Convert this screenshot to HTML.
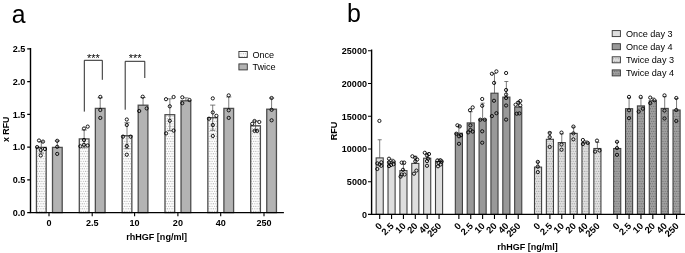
<!DOCTYPE html>
<html lang="en"><head><meta charset="utf-8"><title>Figure</title>
<style>
html,body{margin:0;padding:0;background:#fff;}
svg{display:block;font-family:"Liberation Sans",Arial,sans-serif;}
.b{font-weight:bold;fill:#000;}
.r{fill:#000;}
</style></head><body>
<svg width="685" height="253" viewBox="0 0 685 253">
<defs>
<pattern id="dotL" width="2.3" height="5" patternUnits="userSpaceOnUse">
<rect width="2.3" height="5" fill="#fdfdfd"/>
<circle cx="0.6" cy="1.25" r="0.52" fill="#969696"/><circle cx="1.75" cy="3.75" r="0.52" fill="#969696"/>
</pattern>
<pattern id="dotM" width="2.3" height="5" patternUnits="userSpaceOnUse">
<rect width="2.3" height="5" fill="#e0e0e0"/>
<circle cx="0.6" cy="1.25" r="0.52" fill="#8c8c8c"/><circle cx="1.75" cy="3.75" r="0.52" fill="#8c8c8c"/>
</pattern>
<pattern id="dotD" width="2.3" height="5" patternUnits="userSpaceOnUse">
<rect width="2.3" height="5" fill="#a0a0a0"/>
<circle cx="0.6" cy="1.25" r="0.52" fill="#5c5c5c"/><circle cx="1.75" cy="3.75" r="0.52" fill="#5c5c5c"/>
</pattern>
</defs>
<rect width="685" height="253" fill="#fff"/>

<text class="r" font-size="25.8" transform="translate(11.75 22.50) scale(0.96 1)">a</text>
<text class="r" font-size="26.3" transform="translate(346.90 22.15) scale(0.95 1)">b</text>
<g id="chartA">
<g><rect x="36.45" y="147.40" width="9.70" height="65.20" fill="url(#dotL)" stroke="#4d4d4d" stroke-width="1.3"/><rect x="52.50" y="147.40" width="9.70" height="65.20" fill="#b3b3b3" stroke="#4d4d4d" stroke-width="1.3"/><rect x="79.30" y="138.90" width="9.70" height="73.70" fill="url(#dotL)" stroke="#4d4d4d" stroke-width="1.3"/><rect x="95.35" y="108.40" width="9.70" height="104.20" fill="#b3b3b3" stroke="#4d4d4d" stroke-width="1.3"/><rect x="122.15" y="135.70" width="9.70" height="76.90" fill="url(#dotL)" stroke="#4d4d4d" stroke-width="1.3"/><rect x="138.20" y="105.20" width="9.70" height="107.40" fill="#b3b3b3" stroke="#4d4d4d" stroke-width="1.3"/><rect x="165.00" y="114.70" width="9.70" height="97.90" fill="url(#dotL)" stroke="#4d4d4d" stroke-width="1.3"/><rect x="181.05" y="100.80" width="9.70" height="111.80" fill="#b3b3b3" stroke="#4d4d4d" stroke-width="1.3"/><rect x="207.85" y="117.70" width="9.70" height="94.90" fill="url(#dotL)" stroke="#4d4d4d" stroke-width="1.3"/><rect x="223.90" y="108.40" width="9.70" height="104.20" fill="#b3b3b3" stroke="#4d4d4d" stroke-width="1.3"/><rect x="250.70" y="125.80" width="9.70" height="86.80" fill="url(#dotL)" stroke="#4d4d4d" stroke-width="1.3"/><rect x="266.75" y="109.20" width="9.70" height="103.40" fill="#b3b3b3" stroke="#4d4d4d" stroke-width="1.3"/></g>
<g fill="none" stroke="#444" stroke-width="0.7"><path d="M41.30 141.81V152.99M38.70 141.81h5.2M38.70 152.99h5.2"/><path d="M57.35 140.84V147.40M54.75 140.84h5.2"/><path d="M84.15 130.03V147.77M81.55 130.03h5.2M81.55 147.77h5.2"/><path d="M100.20 97.79V108.40M97.60 97.79h5.2"/><path d="M127.00 122.72V148.68M124.40 122.72h5.2M124.40 148.68h5.2"/><path d="M143.05 97.58V105.20M140.45 97.58h5.2"/><path d="M169.85 98.80V130.60M167.25 98.80h5.2M167.25 130.60h5.2"/><path d="M185.90 97.85V100.80M183.30 97.85h5.2"/><path d="M212.70 105.10V130.30M210.10 105.10h5.2M210.10 130.30h5.2"/><path d="M228.75 96.95V108.40M226.15 96.95h5.2"/><path d="M255.55 120.97V130.63M252.95 120.97h5.2M252.95 130.63h5.2"/><path d="M271.60 98.04V109.20M269.00 98.04h5.2"/></g>
<g fill="none" stroke="#000" stroke-width="0.88"><circle cx="39.00" cy="140.50" r="1.62"/><circle cx="43.00" cy="141.60" r="1.62"/><circle cx="37.10" cy="147.10" r="1.62"/><circle cx="45.00" cy="149.00" r="1.62"/><circle cx="40.75" cy="150.00" r="1.62"/><circle cx="40.75" cy="155.50" r="1.62"/><circle cx="57.20" cy="140.80" r="1.62"/><circle cx="57.20" cy="146.80" r="1.62"/><circle cx="57.20" cy="153.90" r="1.62"/><circle cx="87.70" cy="126.60" r="1.62"/><circle cx="84.00" cy="128.50" r="1.62"/><circle cx="84.00" cy="140.00" r="1.62"/><circle cx="80.30" cy="146.30" r="1.62"/><circle cx="84.00" cy="144.80" r="1.62"/><circle cx="87.70" cy="145.50" r="1.62"/><circle cx="100.30" cy="96.90" r="1.62"/><circle cx="100.30" cy="110.00" r="1.62"/><circle cx="100.30" cy="117.90" r="1.62"/><circle cx="126.80" cy="119.50" r="1.62"/><circle cx="126.80" cy="125.00" r="1.62"/><circle cx="123.00" cy="136.60" r="1.62"/><circle cx="130.60" cy="136.60" r="1.62"/><circle cx="126.80" cy="146.00" r="1.62"/><circle cx="126.80" cy="154.70" r="1.62"/><circle cx="142.70" cy="96.70" r="1.62"/><circle cx="146.70" cy="108.40" r="1.62"/><circle cx="139.20" cy="111.00" r="1.62"/><circle cx="166.00" cy="99.20" r="1.62"/><circle cx="173.60" cy="97.00" r="1.62"/><circle cx="169.80" cy="106.30" r="1.62"/><circle cx="169.80" cy="120.80" r="1.62"/><circle cx="173.60" cy="130.60" r="1.62"/><circle cx="166.10" cy="133.40" r="1.62"/><circle cx="182.30" cy="97.30" r="1.62"/><circle cx="189.50" cy="100.00" r="1.62"/><circle cx="182.30" cy="103.20" r="1.62"/><circle cx="212.80" cy="98.40" r="1.62"/><circle cx="212.80" cy="112.40" r="1.62"/><circle cx="216.40" cy="115.80" r="1.62"/><circle cx="209.00" cy="118.70" r="1.62"/><circle cx="212.80" cy="125.00" r="1.62"/><circle cx="212.80" cy="136.00" r="1.62"/><circle cx="228.70" cy="95.40" r="1.62"/><circle cx="228.70" cy="110.30" r="1.62"/><circle cx="228.70" cy="117.90" r="1.62"/><circle cx="254.50" cy="121.00" r="1.62"/><circle cx="259.30" cy="122.00" r="1.62"/><circle cx="252.20" cy="123.80" r="1.62"/><circle cx="254.50" cy="130.90" r="1.62"/><circle cx="257.20" cy="130.90" r="1.62"/><circle cx="271.60" cy="98.00" r="1.62"/><circle cx="271.60" cy="109.80" r="1.62"/><circle cx="271.60" cy="120.30" r="1.62"/></g>
<path d="M30.5 48.6V212.6H283.2" fill="none" stroke="#000" stroke-width="1.4" stroke-linecap="square"/>
<path d="M27.2 212.60H30.5M27.2 179.86H30.5M27.2 147.12H30.5M27.2 114.38H30.5M27.2 81.64H30.5M27.2 48.90H30.5M49 212.6V216.2M92.2 212.6V216.2M134.6 212.6V216.2M177.9 212.6V216.2M220.7 212.6V216.2M264 212.6V216.2" fill="none" stroke="#000" stroke-width="1.1"/>
<g class="b" text-anchor="end">
<text font-size="9.8" transform="translate(25.40 215.80) scale(0.925 1)">0.0</text>
<text font-size="9.8" transform="translate(25.40 183.06) scale(0.925 1)">0.5</text>
<text font-size="9.8" transform="translate(25.40 150.32) scale(0.925 1)">1.0</text>
<text font-size="9.8" transform="translate(25.40 117.58) scale(0.925 1)">1.5</text>
<text font-size="9.8" transform="translate(25.40 84.84) scale(0.925 1)">2.0</text>
<text font-size="9.8" transform="translate(25.40 52.10) scale(0.925 1)">2.5</text>
</g>
<g class="b" text-anchor="middle">
<text font-size="9.8" transform="translate(49.00 226.20) scale(0.925 1)">0</text>
<text font-size="9.8" transform="translate(92.20 226.20) scale(0.925 1)">2.5</text>
<text font-size="9.8" transform="translate(134.60 226.20) scale(0.925 1)">10</text>
<text font-size="9.8" transform="translate(177.90 226.20) scale(0.925 1)">20</text>
<text font-size="9.8" transform="translate(220.70 226.20) scale(0.925 1)">40</text>
<text font-size="9.8" transform="translate(264.00 226.20) scale(0.925 1)">250</text>
<text font-size="9.8" transform="translate(156.60 239.80) scale(0.925 1)">rhHGF [ng/ml]</text>
<text font-size="9.8" transform="translate(8.60 129.30) rotate(-90) scale(0.905 1)">x RFU</text>
</g>
<path d="M84.3 111.6V60.3H102.3V79.8M125.2 109.7V61.3H144.8V78" fill="none" stroke="#111" stroke-width="0.9"/>
<g class="r" font-size="11" text-anchor="middle"><text x="93.3" y="61.9">***</text><text x="135.1" y="61.9">***</text></g>
<rect x="238.9" y="51.5" width="8.4" height="6" fill="url(#dotL)" stroke="#333" stroke-width="0.9"/>
<rect x="238.9" y="63.9" width="8.4" height="6" fill="#b3b3b3" stroke="#333" stroke-width="0.9"/>
<g class="r"><text font-size="9.5" transform="translate(252.40 58.00) scale(0.96 1)">Once</text><text font-size="9.5" transform="translate(252.40 70.30) scale(0.96 1)">Twice</text></g>
</g>
<g id="chartB">
<g><rect x="376.15" y="157.90" width="7.10" height="56.50" fill="#dedede" stroke="#404040" stroke-width="1.1"/><rect x="388.02" y="161.90" width="7.10" height="52.50" fill="#dedede" stroke="#404040" stroke-width="1.1"/><rect x="399.89" y="170.60" width="7.10" height="43.80" fill="#dedede" stroke="#404040" stroke-width="1.1"/><rect x="411.76" y="163.40" width="7.10" height="51.00" fill="#dedede" stroke="#404040" stroke-width="1.1"/><rect x="423.63" y="158.20" width="7.10" height="56.20" fill="#dedede" stroke="#404040" stroke-width="1.1"/><rect x="435.50" y="161.40" width="7.10" height="53.00" fill="#dedede" stroke="#404040" stroke-width="1.1"/><rect x="455.32" y="133.20" width="7.10" height="81.20" fill="#999999" stroke="#404040" stroke-width="1.1"/><rect x="467.19" y="122.90" width="7.10" height="91.50" fill="#999999" stroke="#404040" stroke-width="1.1"/><rect x="479.06" y="119.20" width="7.10" height="95.20" fill="#999999" stroke="#404040" stroke-width="1.1"/><rect x="490.93" y="93.20" width="7.10" height="121.20" fill="#999999" stroke="#404040" stroke-width="1.1"/><rect x="502.80" y="97.10" width="7.10" height="117.30" fill="#999999" stroke="#404040" stroke-width="1.1"/><rect x="514.67" y="107.10" width="7.10" height="107.30" fill="#999999" stroke="#404040" stroke-width="1.1"/><rect x="534.49" y="167.10" width="7.10" height="47.30" fill="url(#dotM)" stroke="#404040" stroke-width="1.1"/><rect x="546.36" y="139.30" width="7.10" height="75.10" fill="url(#dotM)" stroke="#404040" stroke-width="1.1"/><rect x="558.23" y="142.60" width="7.10" height="71.80" fill="url(#dotM)" stroke="#404040" stroke-width="1.1"/><rect x="570.10" y="133.40" width="7.10" height="81.00" fill="url(#dotM)" stroke="#404040" stroke-width="1.1"/><rect x="581.97" y="142.90" width="7.10" height="71.50" fill="url(#dotM)" stroke="#404040" stroke-width="1.1"/><rect x="593.84" y="148.50" width="7.10" height="65.90" fill="url(#dotM)" stroke="#404040" stroke-width="1.1"/><rect x="613.66" y="148.50" width="7.10" height="65.90" fill="url(#dotD)" stroke="#404040" stroke-width="1.1"/><rect x="625.53" y="108.70" width="7.10" height="105.70" fill="url(#dotD)" stroke="#404040" stroke-width="1.1"/><rect x="637.40" y="105.90" width="7.10" height="108.50" fill="url(#dotD)" stroke="#404040" stroke-width="1.1"/><rect x="649.27" y="100.80" width="7.10" height="113.60" fill="url(#dotD)" stroke="#404040" stroke-width="1.1"/><rect x="661.14" y="108.40" width="7.10" height="106.00" fill="url(#dotD)" stroke="#404040" stroke-width="1.1"/><rect x="673.01" y="110.00" width="7.10" height="104.40" fill="url(#dotD)" stroke="#404040" stroke-width="1.1"/></g>
<g fill="none" stroke="#444" stroke-width="0.7"><path d="M379.70 139.75V157.90M377.70 139.75h4.0"/><path d="M391.57 159.20V161.90M389.57 159.20h4.0"/><path d="M403.44 164.38V170.60M401.44 164.38h4.0"/><path d="M415.31 156.22V163.40M413.31 156.22h4.0"/><path d="M427.18 153.30V158.20M425.18 153.30h4.0"/><path d="M439.05 159.02V161.40M437.05 159.02h4.0"/><path d="M458.87 126.35V133.20M456.87 126.35h4.0"/><path d="M470.74 111.73V122.90M468.74 111.73h4.0"/><path d="M482.61 103.17V119.20M480.61 103.17h4.0"/><path d="M494.48 73.50V93.20M492.48 73.50h4.0"/><path d="M506.35 81.51V97.10M504.35 81.51h4.0"/><path d="M518.22 101.64V107.10M516.22 101.64h4.0"/><path d="M538.04 161.99V167.10M536.04 161.99h4.0"/><path d="M549.91 132.16V139.30M547.91 132.16h4.0"/><path d="M561.78 133.83V142.60M559.78 133.83h4.0"/><path d="M573.65 127.04V133.40M571.65 127.04h4.0"/><path d="M585.52 140.83V142.90M583.52 140.83h4.0"/><path d="M597.39 142.44V148.50M595.39 142.44h4.0"/><path d="M617.21 142.00V148.50M615.21 142.00h4.0"/><path d="M629.08 97.93V108.70M627.08 97.93h4.0"/><path d="M640.95 98.11V105.90M638.95 98.11h4.0"/><path d="M652.82 98.00V100.80M650.82 98.00h4.0"/><path d="M664.69 96.66V108.40M662.69 96.66h4.0"/><path d="M676.56 98.50V110.00M674.56 98.50h4.0"/></g>
<g fill="none" stroke="#000" stroke-width="0.88"><circle cx="377.30" cy="163.40" r="1.62"/><circle cx="381.30" cy="162.30" r="1.62"/><circle cx="379.50" cy="164.50" r="1.62"/><circle cx="381.30" cy="165.80" r="1.62"/><circle cx="377.30" cy="169.00" r="1.62"/><circle cx="379.40" cy="120.90" r="1.62"/><circle cx="389.00" cy="158.70" r="1.62"/><circle cx="393.50" cy="161.40" r="1.62"/><circle cx="389.00" cy="162.30" r="1.62"/><circle cx="393.50" cy="164.20" r="1.62"/><circle cx="391.10" cy="165.00" r="1.62"/><circle cx="389.00" cy="166.10" r="1.62"/><circle cx="401.70" cy="162.60" r="1.62"/><circle cx="404.20" cy="162.60" r="1.62"/><circle cx="403.00" cy="169.80" r="1.62"/><circle cx="401.70" cy="174.50" r="1.62"/><circle cx="404.50" cy="174.50" r="1.62"/><circle cx="400.60" cy="176.60" r="1.62"/><circle cx="412.40" cy="156.30" r="1.62"/><circle cx="415.30" cy="157.90" r="1.62"/><circle cx="417.20" cy="159.50" r="1.62"/><circle cx="415.30" cy="161.40" r="1.62"/><circle cx="416.40" cy="170.60" r="1.62"/><circle cx="414.00" cy="173.70" r="1.62"/><circle cx="424.80" cy="152.80" r="1.62"/><circle cx="429.00" cy="154.00" r="1.62"/><circle cx="427.00" cy="155.50" r="1.62"/><circle cx="428.00" cy="158.70" r="1.62"/><circle cx="427.00" cy="161.10" r="1.62"/><circle cx="427.00" cy="165.80" r="1.62"/><circle cx="437.30" cy="160.50" r="1.62"/><circle cx="440.50" cy="160.30" r="1.62"/><circle cx="441.70" cy="161.50" r="1.62"/><circle cx="438.50" cy="163.00" r="1.62"/><circle cx="440.50" cy="164.50" r="1.62"/><circle cx="438.00" cy="166.30" r="1.62"/><circle cx="457.40" cy="125.30" r="1.62"/><circle cx="459.80" cy="126.40" r="1.62"/><circle cx="456.30" cy="133.70" r="1.62"/><circle cx="461.00" cy="135.20" r="1.62"/><circle cx="459.00" cy="136.30" r="1.62"/><circle cx="459.00" cy="143.80" r="1.62"/><circle cx="472.70" cy="107.40" r="1.62"/><circle cx="470.00" cy="110.20" r="1.62"/><circle cx="470.40" cy="125.30" r="1.62"/><circle cx="470.40" cy="130.00" r="1.62"/><circle cx="468.10" cy="132.40" r="1.62"/><circle cx="472.70" cy="131.60" r="1.62"/><circle cx="482.20" cy="99.00" r="1.62"/><circle cx="482.20" cy="105.80" r="1.62"/><circle cx="480.30" cy="119.70" r="1.62"/><circle cx="484.70" cy="119.70" r="1.62"/><circle cx="482.20" cy="131.30" r="1.62"/><circle cx="482.20" cy="142.70" r="1.62"/><circle cx="491.90" cy="73.75" r="1.62"/><circle cx="496.40" cy="71.40" r="1.62"/><circle cx="494.10" cy="82.90" r="1.62"/><circle cx="494.00" cy="100.75" r="1.62"/><circle cx="496.40" cy="113.20" r="1.62"/><circle cx="491.90" cy="116.10" r="1.62"/><circle cx="506.10" cy="73.00" r="1.62"/><circle cx="506.10" cy="90.00" r="1.62"/><circle cx="506.10" cy="94.50" r="1.62"/><circle cx="506.10" cy="98.00" r="1.62"/><circle cx="506.10" cy="105.50" r="1.62"/><circle cx="506.10" cy="119.60" r="1.62"/><circle cx="515.60" cy="104.70" r="1.62"/><circle cx="518.30" cy="102.60" r="1.62"/><circle cx="520.30" cy="101.00" r="1.62"/><circle cx="520.30" cy="105.30" r="1.62"/><circle cx="516.70" cy="113.70" r="1.62"/><circle cx="519.40" cy="113.40" r="1.62"/><circle cx="537.80" cy="161.90" r="1.62"/><circle cx="537.80" cy="166.60" r="1.62"/><circle cx="537.80" cy="172.10" r="1.62"/><circle cx="549.70" cy="133.00" r="1.62"/><circle cx="549.70" cy="137.10" r="1.62"/><circle cx="549.70" cy="146.90" r="1.62"/><circle cx="561.50" cy="132.60" r="1.62"/><circle cx="561.50" cy="144.50" r="1.62"/><circle cx="561.50" cy="149.70" r="1.62"/><circle cx="573.40" cy="126.60" r="1.62"/><circle cx="573.40" cy="133.40" r="1.62"/><circle cx="573.40" cy="139.30" r="1.62"/><circle cx="582.90" cy="140.00" r="1.62"/><circle cx="587.70" cy="142.90" r="1.62"/><circle cx="582.90" cy="144.00" r="1.62"/><circle cx="597.00" cy="140.60" r="1.62"/><circle cx="599.50" cy="150.50" r="1.62"/><circle cx="595.10" cy="151.60" r="1.62"/><circle cx="617.00" cy="141.80" r="1.62"/><circle cx="617.00" cy="148.10" r="1.62"/><circle cx="617.00" cy="154.80" r="1.62"/><circle cx="629.00" cy="96.90" r="1.62"/><circle cx="629.00" cy="110.30" r="1.62"/><circle cx="629.00" cy="118.20" r="1.62"/><circle cx="640.70" cy="96.90" r="1.62"/><circle cx="642.90" cy="108.70" r="1.62"/><circle cx="638.70" cy="111.60" r="1.62"/><circle cx="650.20" cy="97.60" r="1.62"/><circle cx="654.50" cy="100.30" r="1.62"/><circle cx="650.20" cy="103.20" r="1.62"/><circle cx="664.50" cy="95.40" r="1.62"/><circle cx="664.50" cy="110.60" r="1.62"/><circle cx="664.50" cy="118.50" r="1.62"/><circle cx="676.30" cy="98.00" r="1.62"/><circle cx="676.30" cy="110.00" r="1.62"/><circle cx="676.30" cy="121.00" r="1.62"/></g>
<path d="M371.6 50.3V214.4H685" fill="none" stroke="#000" stroke-width="1.4" stroke-linecap="square"/>
<path d="M368.0 214.40H371.6M368.0 181.68H371.6M368.0 148.96H371.6M368.0 116.24H371.6M368.0 83.52H371.6M368.0 50.80H371.6M379.70 214.4V219.0M391.57 214.4V219.0M403.44 214.4V219.0M415.31 214.4V219.0M427.18 214.4V219.0M439.05 214.4V219.0M458.87 214.4V219.0M470.74 214.4V219.0M482.61 214.4V219.0M494.48 214.4V219.0M506.35 214.4V219.0M518.22 214.4V219.0M538.04 214.4V219.0M549.91 214.4V219.0M561.78 214.4V219.0M573.65 214.4V219.0M585.52 214.4V219.0M597.39 214.4V219.0M617.21 214.4V219.0M629.08 214.4V219.0M640.95 214.4V219.0M652.82 214.4V219.0M664.69 214.4V219.0M676.56 214.4V219.0" fill="none" stroke="#000" stroke-width="1.1"/>
<g class="b" text-anchor="end">
<text font-size="9.75" transform="translate(366.90 217.75) scale(0.925 1)">0</text>
<text font-size="9.75" transform="translate(366.90 185.03) scale(0.925 1)">5000</text>
<text font-size="9.75" transform="translate(366.90 152.31) scale(0.925 1)">10000</text>
<text font-size="9.75" transform="translate(366.90 119.59) scale(0.925 1)">15000</text>
<text font-size="9.75" transform="translate(366.90 86.87) scale(0.925 1)">20000</text>
<text font-size="9.75" transform="translate(366.90 54.15) scale(0.925 1)">25000</text>
<text font-size="9.3" transform="translate(382.60 226.60) rotate(-45)">0</text>
<text font-size="9.3" transform="translate(394.47 226.60) rotate(-45)">2.5</text>
<text font-size="9.3" transform="translate(406.34 226.60) rotate(-45)">10</text>
<text font-size="9.3" transform="translate(418.21 226.60) rotate(-45)">20</text>
<text font-size="9.3" transform="translate(430.08 226.60) rotate(-45)">40</text>
<text font-size="9.3" transform="translate(441.95 226.60) rotate(-45)">250</text>
<text font-size="9.3" transform="translate(461.77 226.60) rotate(-45)">0</text>
<text font-size="9.3" transform="translate(473.64 226.60) rotate(-45)">2.5</text>
<text font-size="9.3" transform="translate(485.51 226.60) rotate(-45)">10</text>
<text font-size="9.3" transform="translate(497.38 226.60) rotate(-45)">20</text>
<text font-size="9.3" transform="translate(509.25 226.60) rotate(-45)">40</text>
<text font-size="9.3" transform="translate(521.12 226.60) rotate(-45)">250</text>
<text font-size="9.3" transform="translate(540.94 226.60) rotate(-45)">0</text>
<text font-size="9.3" transform="translate(552.81 226.60) rotate(-45)">2.5</text>
<text font-size="9.3" transform="translate(564.68 226.60) rotate(-45)">10</text>
<text font-size="9.3" transform="translate(576.55 226.60) rotate(-45)">20</text>
<text font-size="9.3" transform="translate(588.42 226.60) rotate(-45)">40</text>
<text font-size="9.3" transform="translate(600.29 226.60) rotate(-45)">250</text>
<text font-size="9.3" transform="translate(620.11 226.60) rotate(-45)">0</text>
<text font-size="9.3" transform="translate(631.98 226.60) rotate(-45)">2.5</text>
<text font-size="9.3" transform="translate(643.85 226.60) rotate(-45)">10</text>
<text font-size="9.3" transform="translate(655.72 226.60) rotate(-45)">20</text>
<text font-size="9.3" transform="translate(667.59 226.60) rotate(-45)">40</text>
<text font-size="9.3" transform="translate(679.46 226.60) rotate(-45)">250</text>
</g>
<g class="b" text-anchor="middle">
<text font-size="9.75" transform="translate(527.50 249.90) scale(0.925 1)">rhHGF [ng/ml]</text>
<text font-size="9.75" transform="translate(336.60 131.10) rotate(-90) scale(0.925 1)">RFU</text>
</g>
<rect x="612.2" y="30.6" width="8.2" height="6" fill="#dedede" stroke="#333" stroke-width="0.9"/>
<rect x="612.2" y="43.7" width="8.2" height="6" fill="#999999" stroke="#333" stroke-width="0.9"/>
<rect x="612.2" y="56.8" width="8.2" height="6" fill="url(#dotM)" stroke="#333" stroke-width="0.9"/>
<rect x="612.2" y="69.9" width="8.2" height="6" fill="url(#dotD)" stroke="#333" stroke-width="0.9"/>
<g class="r">
<text font-size="9.5" transform="translate(626.00 36.80) scale(0.96 1)">Once day 3</text>
<text font-size="9.5" transform="translate(626.00 49.90) scale(0.96 1)">Once day 4</text>
<text font-size="9.5" transform="translate(626.00 63.00) scale(0.96 1)">Twice day 3</text>
<text font-size="9.5" transform="translate(626.00 76.10) scale(0.96 1)">Twice day 4</text>
</g>
</g>
</svg></body></html>
